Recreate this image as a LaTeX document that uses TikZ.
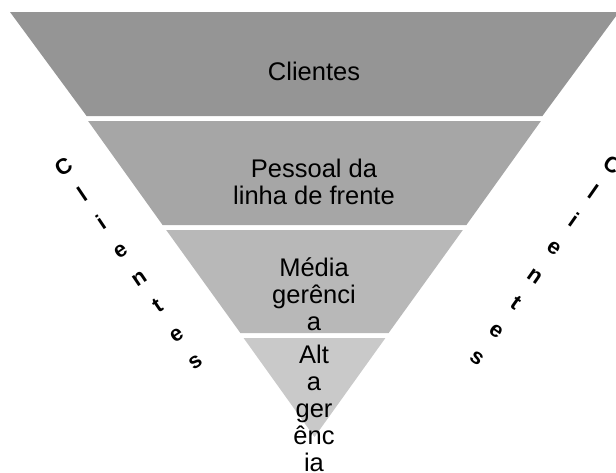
\documentclass[tikz,border=0pt]{standalone}
\usepackage{fontspec}
\setmainfont{Liberation Sans}
\begin{document}
\begin{tikzpicture}[x=1pt,y=-1pt,
  label/.style={inner sep=0pt,align=center,anchor=base,
    font=\fontsize{25.5}{26.8}\selectfont},
  sidetext/.style={inner sep=0pt,align=center,
    font=\bfseries\fontsize{22}{33.5}\selectfont}]
\definecolor{layerA}{RGB}{149,149,149}
\definecolor{layerB}{RGB}{166,166,166}
\definecolor{layerC}{RGB}{184,184,184}
\definecolor{layerD}{RGB}{201,201,201}
\useasboundingbox (0,0) rectangle (616,472);
\clip (0,0) rectangle (616,472);
% inverted pyramid: apex (314.5,437), edge slope 0.7165, white gaps between bands
\fill[layerA] (10,12) -- (619,12) -- (542.4,116) -- (86.6,116) -- cycle;
\fill[layerB] (88.1,121) -- (540.9,121) -- (466.4,225) -- (162.6,225) -- cycle;
\fill[layerC] (166.2,230) -- (462.8,230) -- (388.6,333) -- (240.4,333) -- cycle;
\fill[layerD] (243.6,338) -- (385.4,338) -- (314.5,437) -- cycle;
% band captions, placed by the baseline of their last line
\node[label] (top) at (314,80.5) {Clientes};
\node[label] (front) at (314,204) {Pessoal da\\linha de frente};
\node[label] (middle) at (314,330) {Média\\gerênci\\a};
\node[label] (upper) at (314,471) {Alt\\a\\ger\\ênc\\ia};
% side columns of stacked letters
\node[sidetext,rotate=34] (left) at (129,264) {C\\l\\i\\e\\n\\t\\e\\s};
\node[sidetext,rotate=-35] (right) at (545,261) {C\\l\\i\\e\\n\\t\\e\\s};
\end{tikzpicture}
\end{document}
